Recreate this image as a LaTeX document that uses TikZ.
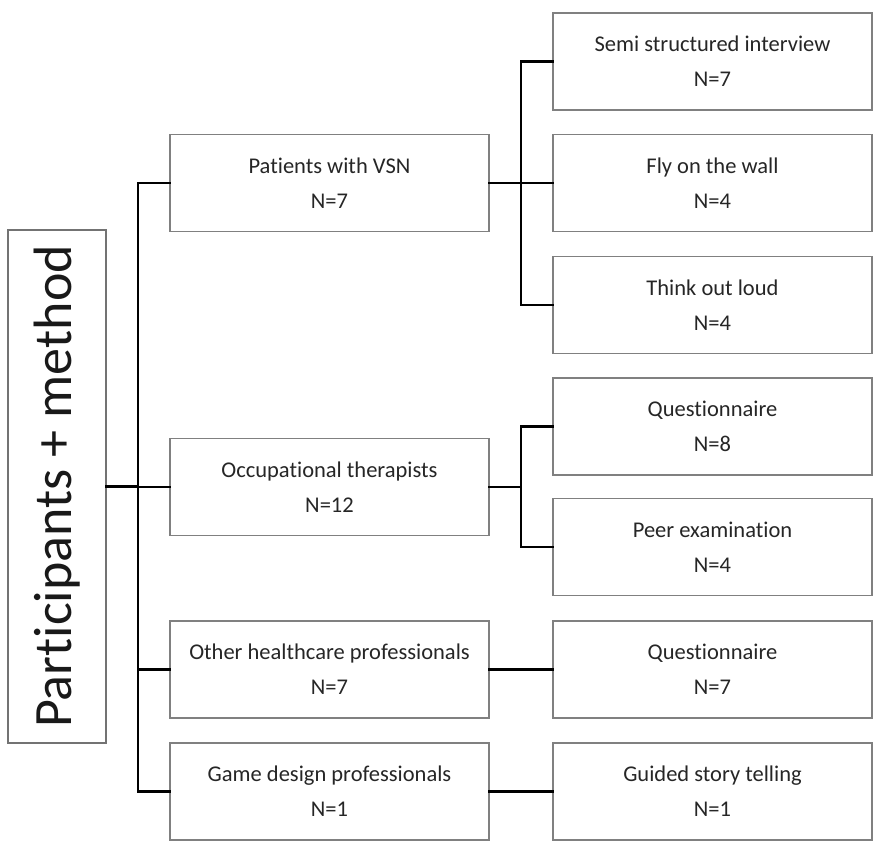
\documentclass[tikz,border=0pt]{standalone}
\usepackage{fontspec}
\setmainfont{Carlito}[Ligatures=NoCommon]
\usepackage{tikz}
\usetikzlibrary{positioning}
\tikzset{box/.style = {draw=black!50, line width=1.1pt, fill=white,
                       minimum width=319pt, minimum height=97pt,
                       inner sep=0pt, align=center, text=black!85,
                       font=\fontsize{22.5}{35}\selectfont}}
\tikzset{rootbox/.style = {draw=black!55, line width=1.1pt,
                           minimum width=513pt, minimum height=98pt,
                           inner sep=0pt, rotate=90, text=black!90,
                           font=\fontsize{54}{60}\selectfont}}
\tikzset{branch/.style = {line width=2.6pt, black, line cap=rect}}

\begin{document}
\begin{tikzpicture}[x=1pt, y=-1pt]
    \useasboundingbox (0, 0) rectangle (885, 855);

    \node [rootbox] (root) at (57, 486.5) {Participants + method};

    \node [box] (pat)   at (329.5, 183) {Patients with VSN\\N=7};
    \node [box] (occ)   at (329.5, 487) {Occupational therapists\\N=12};
    \node [box] (other) at (329.5, 669.5) {Other healthcare professionals\\N=7};
    \node [box] (game)  at (329.5, 791.5) {Game design professionals\\N=1};

    \node [box] (semi)   at (712.5, 61.5) {Semi structured interview\\N=7};
    \node [box] (fly)    at (712.5, 183) {Fly on the wall\\N=4};
    \node [box] (think)  at (712.5, 305) {Think out loud\\N=4};
    \node [box] (quest)  at (712.5, 426.5) {Questionnaire\\N=8};
    \node [box] (peer)   at (712.5, 547) {Peer examination\\N=4};
    \node [box] (questb) at (712.5, 669.5) {Questionnaire\\N=7};
    \node [box] (story)  at (712.5, 791.5) {Guided story telling\\N=1};

    \coordinate (trunk) at (138, 0);
    \coordinate (fork) at (521, 0);

    % participants
    \draw [branch] (root.south) -- (root.south -| trunk);
    \draw [branch] (pat.west -| trunk) -- (game.west -| trunk);
    \foreach \grp in {pat, occ, other, game}
        \draw [branch] (\grp.west -| trunk) -- (\grp.west);

    % methods
    \draw [branch] (pat.east) -- (pat.east -| fork);
    \draw [branch] (semi.west -| fork) -- (think.west -| fork);
    \foreach \mth in {semi, fly, think}
        \draw [branch] (\mth.west -| fork) -- (\mth.west);

    \draw [branch] (occ.east) -- (occ.east -| fork);
    \draw [branch] (quest.west -| fork) -- (peer.west -| fork);
    \foreach \mth in {quest, peer}
        \draw [branch] (\mth.west -| fork) -- (\mth.west);

    \draw [branch] (other.east) -- (questb.west);
    \draw [branch] (game.east) -- (story.west);
\end{tikzpicture}
\end{document}
